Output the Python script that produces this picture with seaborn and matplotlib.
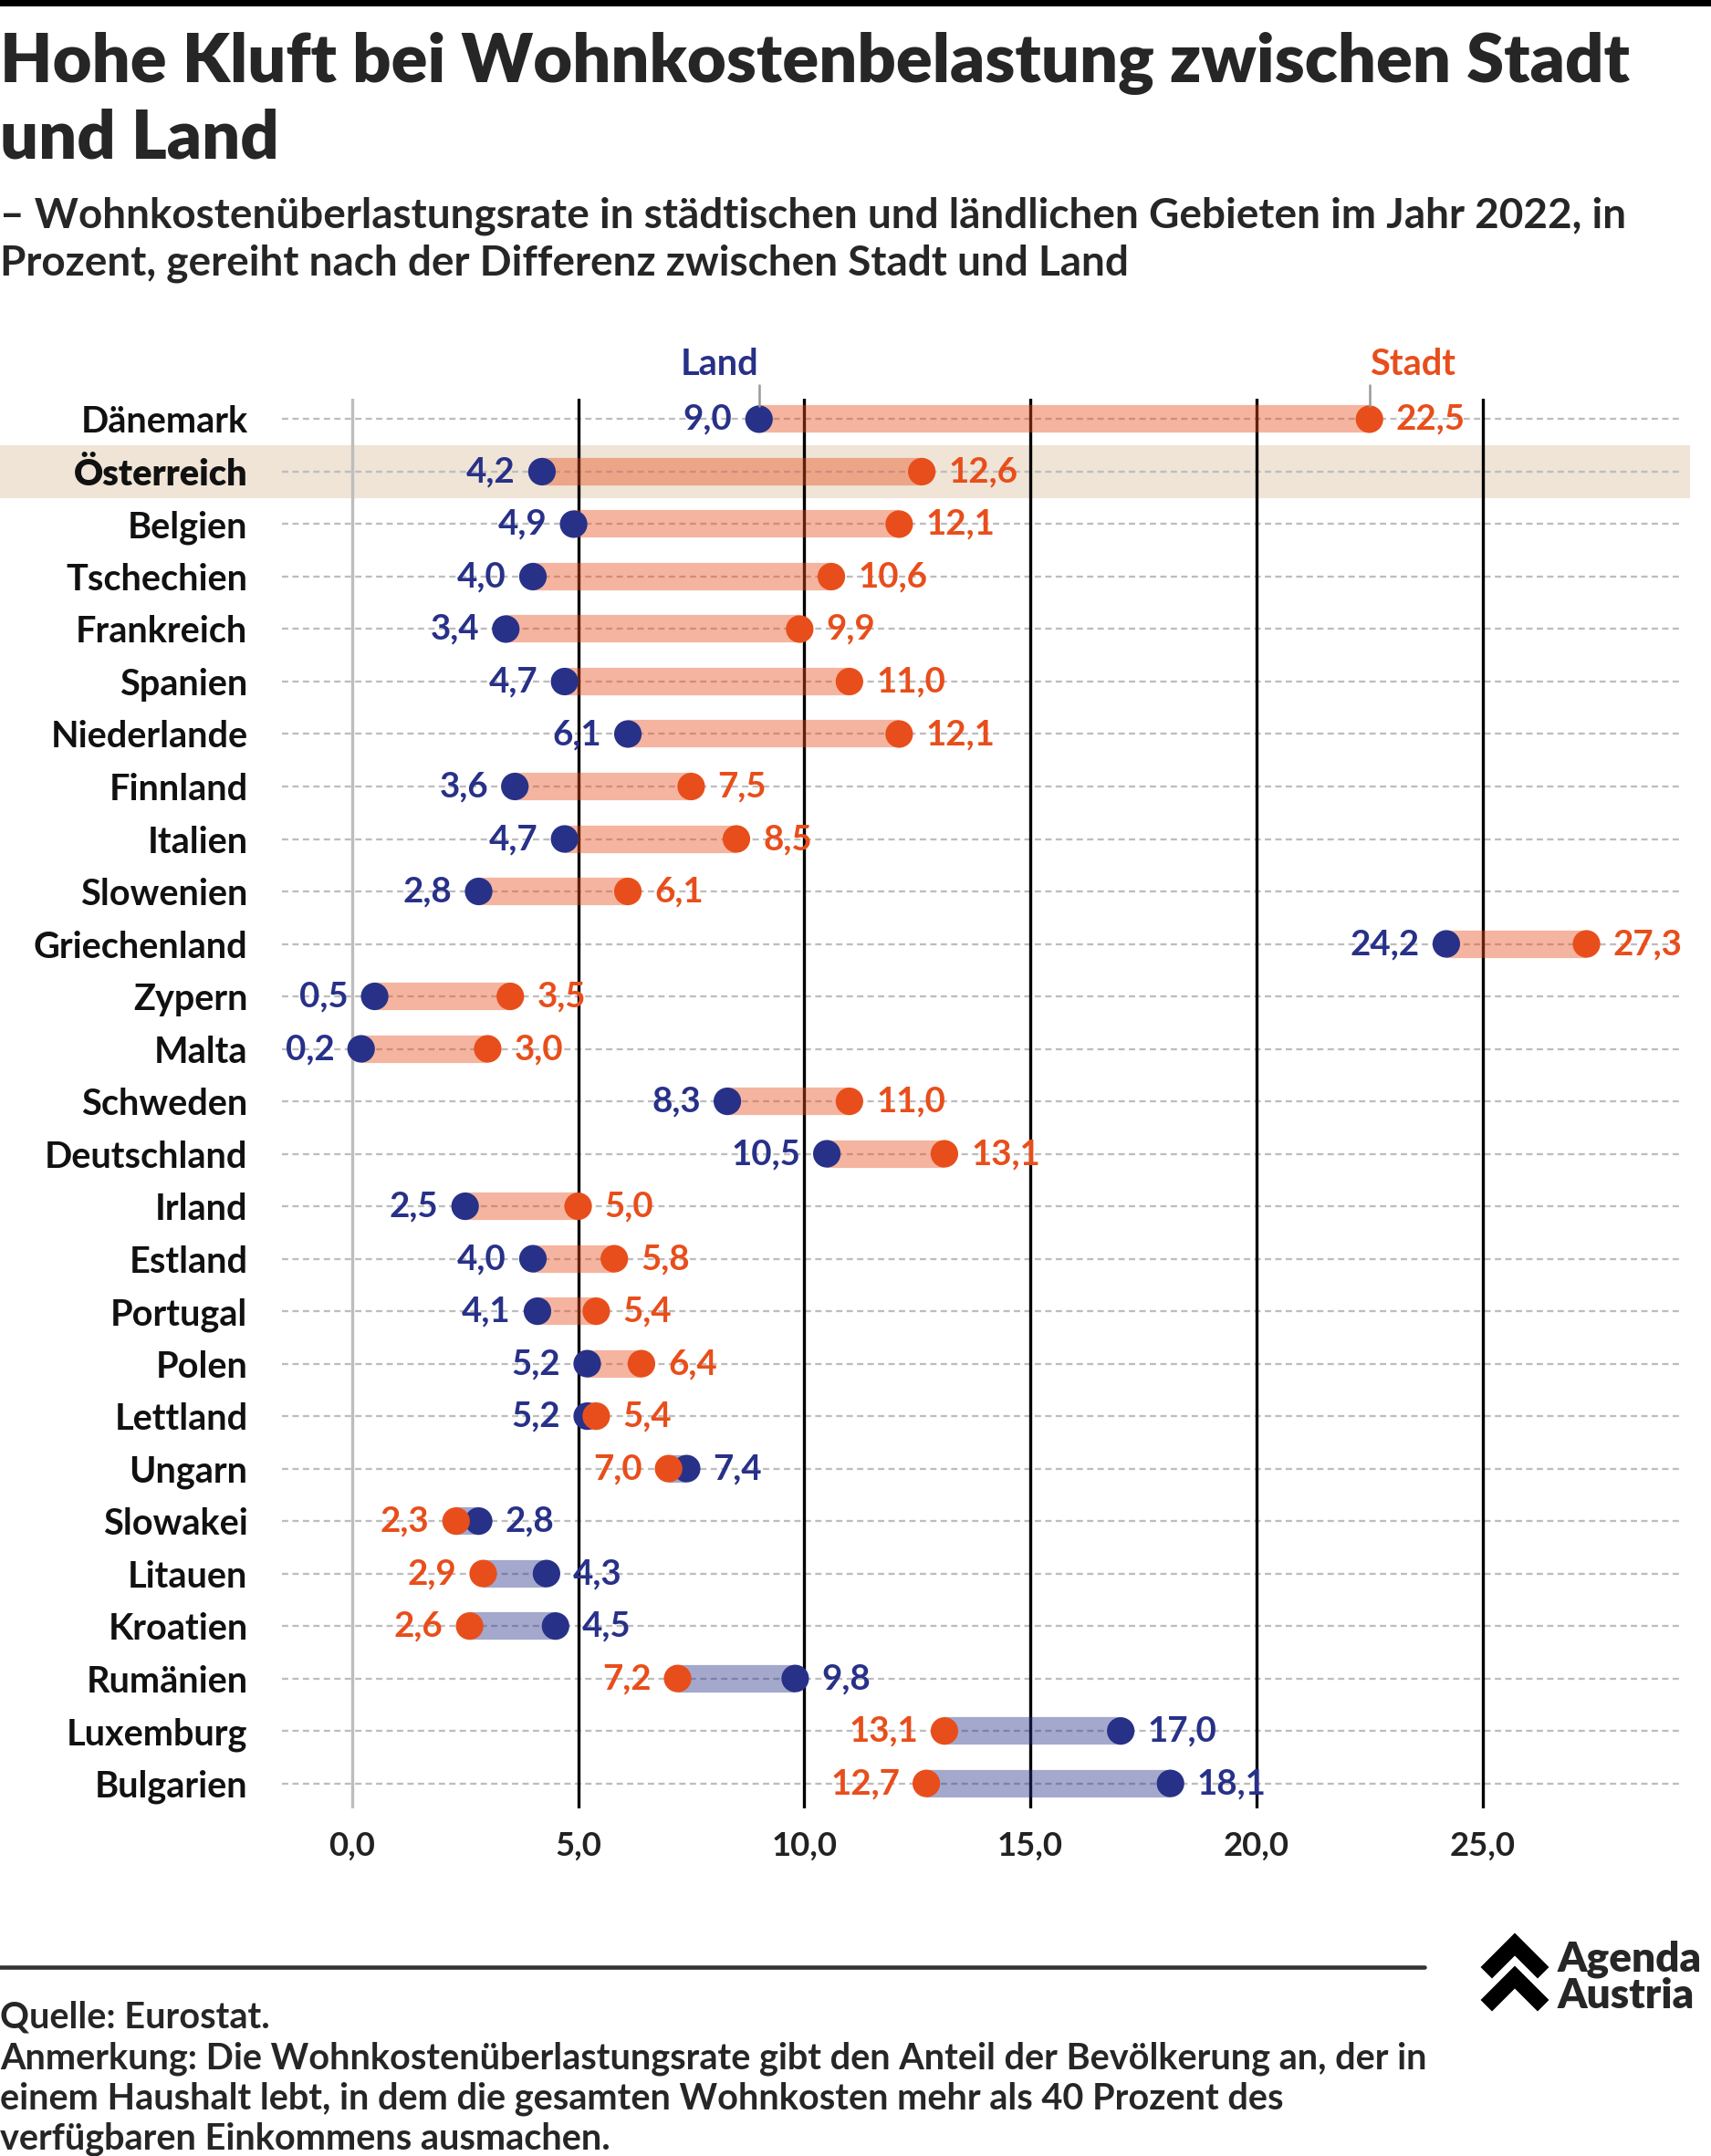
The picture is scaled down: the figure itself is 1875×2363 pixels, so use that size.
import numpy as np
import pandas as pd
import matplotlib
matplotlib.use("Agg")
import matplotlib.pyplot as plt
import matplotlib.transforms as mtransforms
from matplotlib.patches import Polygon, Rectangle
import seaborn as sns

# data
laender = ["Dänemark", "Österreich", "Belgien", "Tschechien", "Frankreich", "Spanien",
           "Niederlande", "Finnland", "Italien", "Slowenien", "Griechenland", "Zypern",
           "Malta", "Schweden", "Deutschland", "Irland", "Estland", "Portugal", "Polen",
           "Lettland", "Ungarn", "Slowakei", "Litauen", "Kroatien", "Rumänien",
           "Luxemburg", "Bulgarien"]
land = [9.0, 4.2, 4.9, 4.0, 3.4, 4.7, 6.1, 3.6, 4.7, 2.8, 24.2, 0.5, 0.2, 8.3, 10.5,
        2.5, 4.0, 4.1, 5.2, 5.2, 7.4, 2.8, 4.3, 4.5, 9.8, 17.0, 18.1]
stadt = [22.5, 12.6, 12.1, 10.6, 9.9, 11.0, 12.1, 7.5, 8.5, 6.1, 27.3, 3.5, 3.0, 11.0,
         13.1, 5.0, 5.8, 5.4, 6.4, 5.4, 7.0, 2.3, 2.9, 2.6, 7.2, 13.1, 12.7]
x_ticks = [0, 5, 10, 15, 20, 25]

ORANGE = "#E84E1B"
BLUE = "#283188"

sns.set_theme(style="white")
plt.rcParams["font.family"] = ["Lato", "DejaVu Sans"]

W, H = 1875, 2363
fig = plt.figure(figsize=(W / 150, H / 150), dpi=150)

def fx(x):
    return x / W

def fy(y):
    return 1 - y / H

# axes placed so that 0..25 and the rows line up with the reference
ax = fig.add_axes([fx(309), fy(1981.7), fx(1842.6) - fx(309), fy(437) - fy(1981.7)])

pos = np.arange(len(laender))
df = pd.DataFrame({"pos": pos, "land": land, "stadt": stadt, "name": laender})
df_long = pd.concat([
    pd.DataFrame({"pos": pos, "wert": land, "gebiet": "Land"}),
    pd.DataFrame({"pos": pos, "wert": stadt, "gebiet": "Stadt"}),
])

# highlight Österreich
i_at = laender.index("Österreich")
trans = mtransforms.blended_transform_factory(fig.transFigure, ax.transData)
ax.add_patch(Rectangle((0, i_at - 0.49), fx(1851), 0.98, transform=trans,
                       color="#EFE4D6", zorder=0, clip_on=False))

# dashed row lines
for p in pos:
    ax.axhline(p, color="#BDBDBD", lw=1.1, ls=(0, (3, 2)), zorder=1)

# vertical reference lines
for t in x_ticks:
    ax.axvline(t, color="#BDBDBD" if t == 0 else "black", lw=1.6, zorder=1.5)

# bars between the two values
for _, r in df.iterrows():
    c = ORANGE if r["stadt"] >= r["land"] else BLUE
    ax.hlines(r["pos"], r["land"], r["stadt"], color=c, alpha=0.42, lw=14.5,
              capstyle="butt", zorder=2)

sns.scatterplot(data=df_long, x="wert", y="pos", hue="gebiet",
                palette={"Land": BLUE, "Stadt": ORANGE}, s=210, linewidth=0,
                legend=False, zorder=3, ax=ax)

# value labels
for _, r in df.iterrows():
    lo_is_land = r["land"] <= r["stadt"]
    lo, hi = (r["land"], r["stadt"]) if lo_is_land else (r["stadt"], r["land"])
    c_lo, c_hi = (BLUE, ORANGE) if lo_is_land else (ORANGE, BLUE)
    ax.annotate(f"{lo:.1f}".replace(".", ","), (lo, r["pos"]), xytext=(-14, 0),
                textcoords="offset points", ha="right", va="center", fontsize=18.5,
                color=c_lo, fontweight="bold", zorder=4)
    ax.annotate(f"{hi:.1f}".replace(".", ","), (hi, r["pos"]), xytext=(14, 0),
                textcoords="offset points", ha="left", va="center", fontsize=18.5,
                color=c_hi, fontweight="bold", zorder=4)

# Land / Stadt key above Dänemark
ax.annotate("Land", (land[0], 0), xytext=(land[0], -1.05), ha="right", va="center",
            fontsize=19, color=BLUE, fontweight="bold", annotation_clip=False)
ax.annotate("Stadt", (stadt[0], 0), xytext=(stadt[0], -1.05), ha="left", va="center",
            fontsize=19, color=ORANGE, fontweight="bold", annotation_clip=False)
for v in (land[0], stadt[0]):
    ax.plot([v, v], [-0.65, -0.25], color="#999999", lw=1.2, clip_on=False, zorder=3)

ax.set_xlim(-1.55, 29.4)
ax.set_ylim(26.47, -0.39)
ax.set_xticks(x_ticks)
ax.set_xticklabels([f"{t:.1f}".replace(".", ",") for t in x_ticks],
                   fontsize=17.5, fontweight="bold", color="#222222")
ax.set_yticks(pos)
ax.set_yticklabels(laender, fontsize=19, fontweight="bold", color="#111111")
for lab in ax.get_yticklabels():
    if lab.get_text() == "Österreich":
        lab.set_fontweight("heavy")
ax.tick_params(axis="x", length=0, pad=12)
ax.tick_params(axis="y", length=0, pad=18)
ax.set_xlabel("")
ax.set_ylabel("")
for s in ax.spines.values():
    s.set_visible(False)
ax.patch.set_alpha(0)

# header
fig.add_artist(Rectangle((0, fy(6)), 1, 6 / H, transform=fig.transFigure,
                         color="black"))
fig.text(0, fy(70), "Hohe Kluft bei Wohnkostenbelastung zwischen Stadt",
         fontsize=35.5, fontweight="heavy", va="center", ha="left")
fig.text(0, fy(153), "und Land", fontsize=35.5, fontweight="heavy", va="center", ha="left")
fig.text(0, fy(237), "– Wohnkostenüberlastungsrate in städtischen und ländlichen Gebieten im Jahr 2022, in",
         fontsize=22, fontweight="bold", va="center", ha="left")
fig.text(0, fy(289), "Prozent, gereiht nach der Differenz zwischen Stadt und Land",
         fontsize=22, fontweight="bold", va="center", ha="left")

# footer
fig.add_artist(plt.Line2D([0, fx(1561)], [fy(2156), fy(2156)], color="#333333", lw=2.2,
                          transform=fig.transFigure))
fig.text(0, fy(2211), "Quelle: Eurostat.", fontsize=19, fontweight="bold", va="center")
notes = ["Anmerkung: Die Wohnkostenüberlastungsrate gibt den Anteil der Bevölkerung an, der in",
         "einem Haushalt lebt, in dem die gesamten Wohnkosten mehr als 40 Prozent des",
         "verfügbaren Einkommens ausmachen."]
for k, line in enumerate(notes):
    fig.text(0, fy(2256 + 44 * k), line, fontsize=19, fontweight="bold", va="center")

# logo: two chevrons and name
for dy in (0, 36):
    pts = [(1624, 2156 + dy), (1660, 2120 + dy), (1696, 2156 + dy),
           (1685, 2167 + dy), (1660, 2142 + dy), (1635, 2167 + dy)]
    fig.add_artist(Polygon([(fx(a), fy(b)) for a, b in pts], closed=True,
                           color="black", transform=fig.transFigure))
fig.text(fx(1707), fy(2144), "Agenda", fontsize=22, fontweight="heavy", va="center_baseline")
fig.text(fx(1707), fy(2184), "Austria", fontsize=22, fontweight="heavy", va="center_baseline")

fig.savefig("out.png", dpi=150)
